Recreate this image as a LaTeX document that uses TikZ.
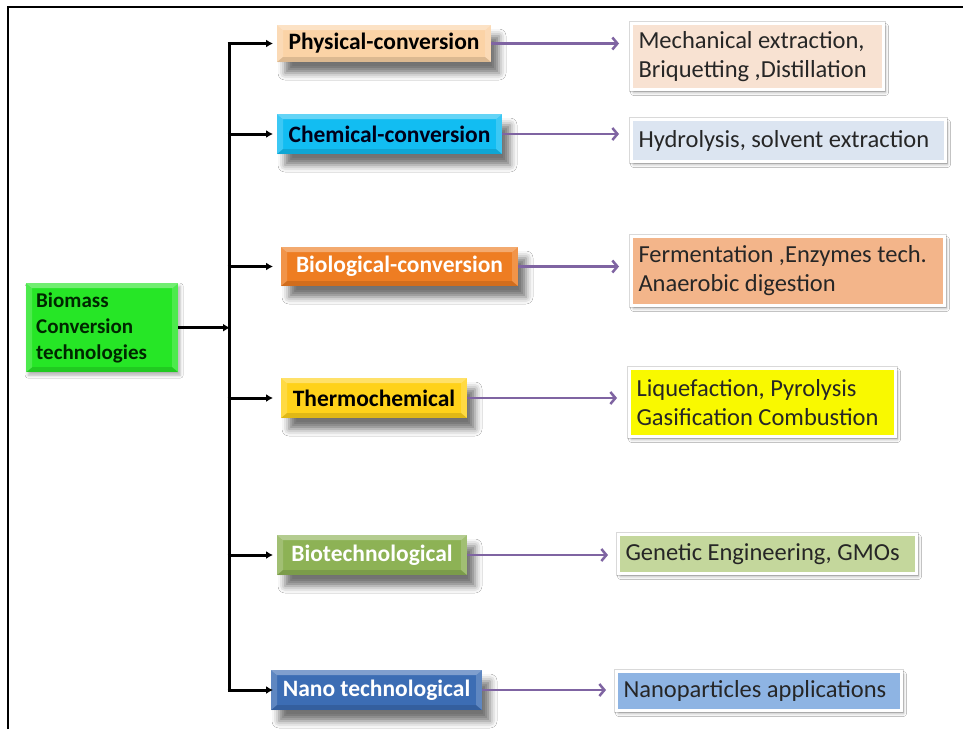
\documentclass[tikz,border=0pt]{standalone}
\usepackage{fontspec}
\setmainfont{Carlito}
\usetikzlibrary{arrows.meta,shadows.blur,calc}
\definecolor{cRoot}{HTML}{26E626}
\definecolor{cPhys}{HTML}{FBD3A6}
\definecolor{cChem}{HTML}{12BDF2}
\definecolor{cBio}{HTML}{EE7D22}
\definecolor{cThermo}{HTML}{FFD21A}
\definecolor{cBiotech}{HTML}{8DB255}
\definecolor{cNano}{HTML}{3C6DB4}
\definecolor{dPhys}{HTML}{F8E2D2}
\definecolor{dChem}{HTML}{DCE5F1}
\definecolor{dBio}{HTML}{F3B58A}
\definecolor{dThermo}{HTML}{F9F900}
\definecolor{dBiotech}{HTML}{C4D79C}
\definecolor{dNano}{HTML}{8EB4E3}
\definecolor{cPurple}{HTML}{7F64A2}
\definecolor{cText}{HTML}{262626}
\tikzset{
  bevel/.style={path picture={
    \fill[white,opacity=.35] (path picture bounding box.north west) -- (path picture bounding box.north east)
      -- ([shift={(-6pt,-5pt)}]path picture bounding box.north east) -- ([shift={(6pt,-5pt)}]path picture bounding box.north west) -- cycle;
    \fill[white,opacity=.18] (path picture bounding box.north west) -- ([shift={(6pt,-5pt)}]path picture bounding box.north west)
      -- ([shift={(6pt,5pt)}]path picture bounding box.south west) -- (path picture bounding box.south west) -- cycle;
    \fill[white,opacity=.18] (path picture bounding box.north east) -- ([shift={(-6pt,-5pt)}]path picture bounding box.north east)
      -- ([shift={(-6pt,5pt)}]path picture bounding box.south east) -- (path picture bounding box.south east) -- cycle;
    \fill[black,opacity=.12] (path picture bounding box.south west) -- (path picture bounding box.south east)
      -- ([shift={(-6pt,5pt)}]path picture bounding box.south east) -- ([shift={(6pt,5pt)}]path picture bounding box.south west) -- cycle;
  }},
  lone/.style={bevel, inner sep=0pt, font=\fontsize{23.5}{28}\selectfont\bfseries,
    blur shadow={shadow xshift=8pt, shadow yshift=-11pt, shadow blur radius=7pt, shadow opacity=55}},
  ltwo/.style={anchor=north west, draw=white, line width=3pt, preaction={draw=black!15, line width=5pt},
    blur shadow={shadow xshift=2pt, shadow yshift=-3pt, shadow blur radius=3pt, shadow opacity=30},
    font=\fontsize{24.5}{29}\selectfont, text=cText, align=flush left, inner xsep=7pt, inner ysep=0pt},
  rootbox/.style={anchor=north west, bevel, inner xsep=10pt, inner ysep=0pt, align=flush left,
    font=\fontsize{21}{26}\selectfont\bfseries, text=black!85!green,
    blur shadow={shadow xshift=2pt, shadow yshift=-3pt, shadow blur radius=3pt, shadow opacity=30}},
  blkarr/.style={line width=3pt, draw=black, -{Latex[length=7pt,width=8pt]}},
  trunkline/.style={line width=3pt, draw=black},
  parr/.style={line width=2.5pt, draw=cPurple, -{Straight Barb[length=5pt,width=12pt]}},
}
\begin{document}
\begin{tikzpicture}[x=1pt,y=-1pt]
\useasboundingbox (0,0) rectangle (963,729);
\fill[white] (0,0) rectangle (963,729);
\draw[line width=2.5pt] (8,729) -- (8,7) -- (963,7);

% root
\node[rootbox, fill=cRoot, minimum width=152pt, minimum height=89pt, text width=132pt] (root) at (26,283)
  {Biomass\\Conversion\\technologies};

% level 1
\node[lone, fill=cPhys, text=black, minimum width=214pt, minimum height=37pt] (b1) at (384,43.5) {Physical-conversion};
\node[lone, fill=cChem, text=black!90!blue, minimum width=225pt, minimum height=40pt] (b2) at (389.5,134) {Chemical-conversion};
\node[lone, fill=cBio, text=white, minimum width=237pt, minimum height=39pt] (b3) at (399.5,266.5) {Biological-conversion};
\node[lone, fill=cThermo, text=black, minimum width=186pt, minimum height=40pt] (b4) at (374,398) {Thermochemical};
\node[lone, fill=cBiotech, text=white, minimum width=190pt, minimum height=40pt] (b5) at (372,555) {Biotechnological};
\node[lone, fill=cNano, text=white, minimum width=211pt, minimum height=40pt] (b6) at (376.5,690) {Nano technological};

% level 2
\node[ltwo, fill=dPhys, text width=238pt, minimum height=66pt] (m1) at (630,22) {Mechanical extraction,\\Briquetting ,Distillation};
\node[ltwo, fill=dChem, text width=300pt, minimum height=42pt] (m2) at (630,118) {Hydrolysis, solvent extraction};
\node[ltwo, fill=dBio, text width=299pt, minimum height=69pt] (m3) at (630,235) {Fermentation ,Enzymes tech.\\Anaerobic digestion};
\node[ltwo, fill=dThermo, text width=252pt, minimum height=68pt] (m4) at (628,367) {Liquefaction, Pyrolysis\\Gasification Combustion};
\node[ltwo, fill=dBiotech, text width=284pt, minimum height=39pt] (m5) at (617,533) {Genetic Engineering, GMOs};
\node[ltwo, fill=dNano, text width=271pt, minimum height=39pt] (m6) at (615,670) {Nanoparticles applications};

% black connectors
\coordinate (tr) at (229,0);
\coordinate (tip) at (273,0);
\draw[trunkline] (tr |- b1.west) -- (tr |- b6.west);
\foreach \b in {b1,b2,b3,b4,b5,b6}
  \draw[blkarr] ([xshift=-1.5pt]tr |- \b.west) -- (tip |- \b.west);
\draw[blkarr] (root.east) -- ([xshift=1pt]tr |- root.east);

% purple connectors
\foreach \b/\m in {b1/m1,b2/m2,b3/m3,b4/m4}
  \draw[parr, shorten >=11pt] (\b.east) -- (\b.east -| \m.west);
\foreach \b/\m in {b5/m5,b6/m6}
  \draw[parr, shorten >=9pt] (\b.east) -- (\b.east -| \m.west);
\end{tikzpicture}
\end{document}
